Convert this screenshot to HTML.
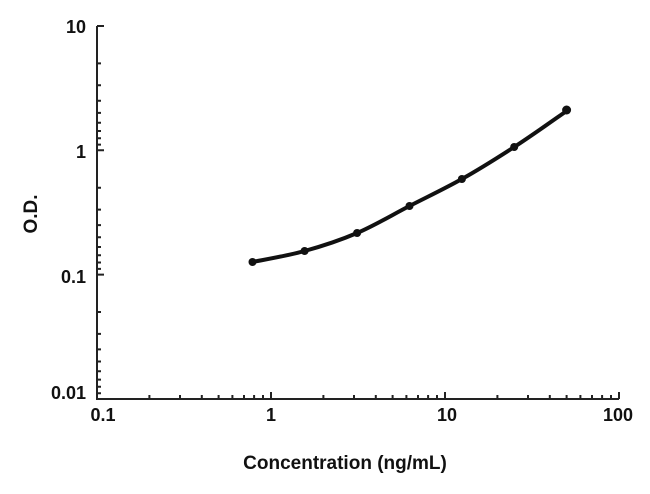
<!DOCTYPE html><html><head><style>body{margin:0;background:#fff}</style></head><body>
<svg width="650" height="489" xmlns="http://www.w3.org/2000/svg" font-family="Liberation Sans, Arial, sans-serif" font-weight="bold">
<g stroke="#222" stroke-width="2" fill="none">
<path d="M97,26 V399 H619"/>
<path d="
M97,26h7 M97,150.3h7 M97,274.6h7 M97,399h7
M97,63.4h4M97,85.3h4M97,100.8h4M97,112.9h4M97,122.7h4M97,131h4M97,138.2h4M97,144.6h4
M97,187.7h4M97,209.6h4M97,225.1h4M97,237.2h4M97,247h4M97,255.3h4M97,262.5h4M97,268.9h4
M97,312h4M97,333.9h4M97,349.4h4M97,361.5h4M97,371.3h4M97,379.6h4M97,386.8h4M97,393.2h4
M271,399v-7M445,399v-7M619,399v-7
M149.4,399v-4M180,399v-4M201.8,399v-4M218.6,399v-4M232.4,399v-4M244,399v-4M254.1,399v-4M263,399v-4
M323.4,399v-4M354,399v-4M375.8,399v-4M392.6,399v-4M406.4,399v-4M418,399v-4M428.1,399v-4M437,399v-4
M497.4,399v-4M528,399v-4M549.8,399v-4M566.6,399v-4M580.4,399v-4M592,399v-4M602.1,399v-4M611,399v-4"/>
</g>
<path d="M252.5,262 C261.2,260.2 287.2,255.8 304.6,251 C322,246.2 339.6,240.5 357.1,233 C374.6,225.5 392,215 409.5,206 C427,197 444.4,188.8 461.9,179 C479.4,169.2 496.7,158.3 514.2,147 C531.7,135.7 557.9,117 566.6,111" stroke="#111" stroke-width="4" fill="none"/>
<g fill="#111">
<circle cx="252.5" cy="262" r="4"/><circle cx="304.6" cy="251" r="4"/><circle cx="357.1" cy="233" r="4"/><circle cx="409.5" cy="206" r="4"/><circle cx="461.9" cy="179" r="4"/><circle cx="514.2" cy="147" r="4"/><circle cx="566.6" cy="110" r="4.5"/>
</g>
<g font-size="18" fill="#111" text-anchor="end">
<text x="86" y="33">10</text><text x="86" y="158">1</text><text x="86" y="283">0.1</text><text x="86" y="399">0.01</text>
</g>
<g font-size="18" fill="#111" text-anchor="middle">
<text x="103" y="421">0.1</text><text x="271" y="421">1</text><text x="447" y="421">10</text><text x="618" y="421">100</text>
</g>
<text x="345" y="469" font-size="19" text-anchor="middle" fill="#111">Concentration (ng/mL)</text>
<text transform="translate(37,214) rotate(-90)" font-size="19" text-anchor="middle" fill="#111">O.D.</text>
</svg>
</body></html>
